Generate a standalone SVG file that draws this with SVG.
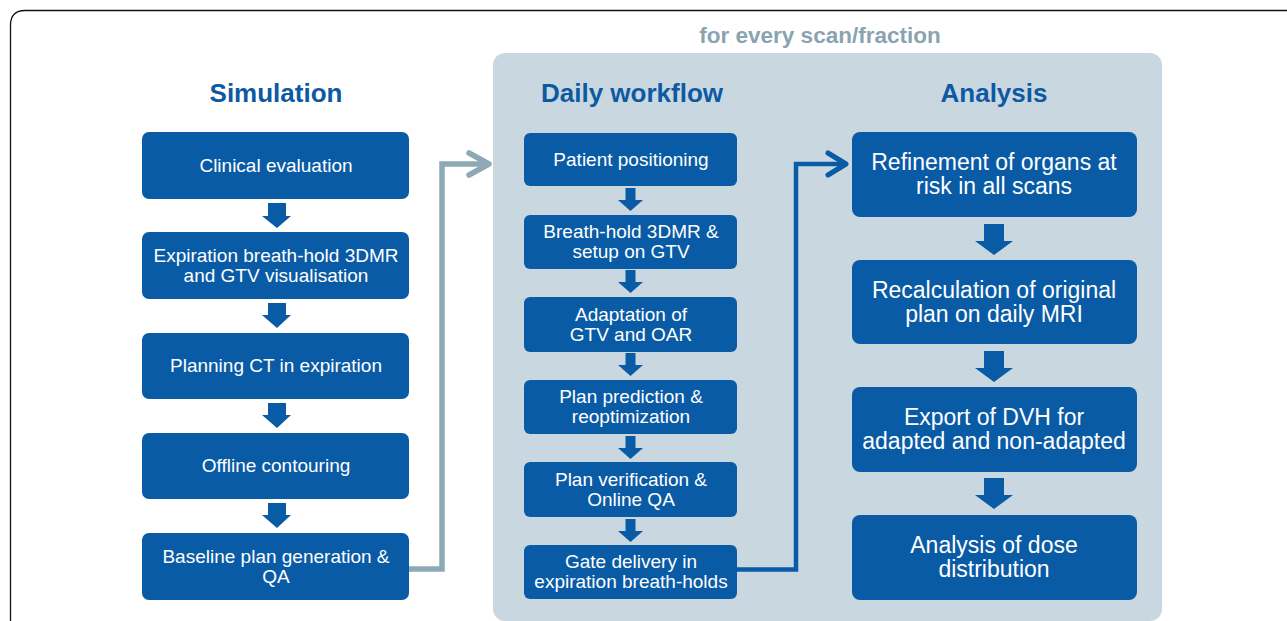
<svg xmlns="http://www.w3.org/2000/svg" width="1287" height="621" viewBox="0 0 1287 621">
<defs>
<style>
.box{fill:#0a5ba6;}
.t{font-family:"Liberation Sans",Arial,sans-serif;fill:#ffffff;text-anchor:middle;}
.s{font-size:19px;}
.a{font-size:23px;}
.h{font-family:"Liberation Sans",Arial,sans-serif;font-weight:bold;fill:#0d5aa3;font-size:26px;text-anchor:middle;}
.down{fill:#0a5ba6;}
</style>
</defs>
<rect x="0" y="0" width="1287" height="621" fill="#ffffff"/>
<path d="M10.5,621 V25 Q10.5,10.5 25,10.5 H1287" fill="none" stroke="#111111" stroke-width="1.3"/>
<rect id="panel" x="493" y="53" width="669" height="568" rx="12" fill="#c9d7e0"/>
<text x="820" y="43" font-family="Liberation Sans,Arial,sans-serif" font-weight="bold" font-size="22.5" fill="#8aa3b0" text-anchor="middle">for every scan/fraction</text>
<text class="h" x="276" y="102">Simulation</text>
<text class="h" x="632" y="102">Daily workflow</text>
<text class="h" x="994" y="102">Analysis</text>

<g id="connectors">
<polyline points="409,569 442,569 442,164 488,164" fill="none" stroke="#8ea9b6" stroke-width="5.5"/>
<polyline points="469,153 489,164 469,175" fill="none" stroke="#8ea9b6" stroke-width="5.5" stroke-linecap="round" stroke-linejoin="round"/>
<polyline points="737,569.5 796,569.5 796,164 845,164" fill="none" stroke="#0a5ba6" stroke-width="4.5"/>
<polyline points="828,153 846,164 828,175" fill="none" stroke="#0a5ba6" stroke-width="5" stroke-linecap="round" stroke-linejoin="round"/>
<!-- simulation arrows -->
<path class="down" d="M268,203 H286 V216 H291 L277,228 L262,216 H268 Z"/>
<path class="down" d="M268,303 H286 V315 H291 L277,328 L262,315 H268 Z"/>
<path class="down" d="M268,403 H286 V415 H291 L277,428 L262,415 H268 Z"/>
<path class="down" d="M268,503 H286 V515 H291 L277,528 L262,515 H268 Z"/>
<!-- daily arrows -->
<path class="down" d="M625.5,188 H635.5 V200 H643 L630.5,211 L618,200 H625.5 Z"/>
<path class="down" d="M625.5,270 H635.5 V282 H643 L630.5,293 L618,282 H625.5 Z"/>
<path class="down" d="M625.5,353 H635.5 V365 H643 L630.5,376 L618,365 H625.5 Z"/>
<path class="down" d="M625.5,436 H635.5 V448 H643 L630.5,459 L618,448 H625.5 Z"/>
<path class="down" d="M625.5,519 H635.5 V531 H643 L630.5,542 L618,531 H625.5 Z"/>
<!-- analysis arrows -->
<path class="down" d="M984,224 H1004 V241 H1013 L994,255 L975,241 H984 Z"/>
<path class="down" d="M984,351 H1004 V368 H1013 L994,382 L975,368 H984 Z"/>
<path class="down" d="M984,478 H1004 V495 H1013 L994,509 L975,495 H984 Z"/>
</g>

<g id="sim1"><rect class="box" x="142" y="132" width="267" height="67" rx="7"/><text class="t s" x="276" y="172">Clinical evaluation</text></g>
<g id="sim2"><rect class="box" x="142" y="232" width="267" height="67" rx="7"/><text class="t s" x="276" y="262">Expiration breath-hold 3DMR</text><text class="t s" x="276" y="282">and GTV visualisation</text></g>
<g id="sim3"><rect class="box" x="142" y="333" width="267" height="66" rx="7"/><text class="t s" x="276" y="372">Planning CT in expiration</text></g>
<g id="sim4"><rect class="box" x="142" y="433" width="267" height="66" rx="7"/><text class="t s" x="276" y="472">Offline contouring</text></g>
<g id="sim5"><rect class="box" x="142" y="533" width="267" height="67" rx="7"/><text class="t s" x="276" y="563">Baseline plan generation &amp;</text><text class="t s" x="276" y="583">QA</text></g>

<g id="day1"><rect class="box" x="524" y="133" width="213" height="53" rx="6"/><text class="t s" x="631" y="166">Patient positioning</text></g>
<g id="day2"><rect class="box" x="524" y="215" width="213" height="54" rx="6"/><text class="t s" x="631" y="238">Breath-hold 3DMR &amp;</text><text class="t s" x="631" y="258">setup on GTV</text></g>
<g id="day3"><rect class="box" x="524" y="297" width="213" height="55" rx="6"/><text class="t s" x="631" y="321">Adaptation of</text><text class="t s" x="631" y="341">GTV and OAR</text></g>
<g id="day4"><rect class="box" x="524" y="380" width="213" height="54" rx="6"/><text class="t s" x="631" y="403">Plan prediction &amp;</text><text class="t s" x="631" y="423">reoptimization</text></g>
<g id="day5"><rect class="box" x="524" y="462" width="213" height="55" rx="6"/><text class="t s" x="631" y="486">Plan verification &amp;</text><text class="t s" x="631" y="506">Online QA</text></g>
<g id="day6"><rect class="box" x="524" y="545" width="213" height="54" rx="6"/><text class="t s" x="631" y="568">Gate delivery in</text><text class="t s" x="631" y="588">expiration breath-holds</text></g>

<g id="ana1"><rect class="box" x="852" y="132" width="285" height="85" rx="8"/><text class="t a" x="994" y="170">Refinement of organs at</text><text class="t a" x="994" y="194">risk in all scans</text></g>
<g id="ana2"><rect class="box" x="852" y="260" width="285" height="84" rx="8"/><text class="t a" x="994" y="298">Recalculation of original</text><text class="t a" x="994" y="322">plan on daily MRI</text></g>
<g id="ana3"><rect class="box" x="852" y="387" width="285" height="85" rx="8"/><text class="t a" x="994" y="425">Export of DVH for</text><text class="t a" x="994" y="449">adapted and non-adapted</text></g>
<g id="ana4"><rect class="box" x="852" y="515" width="285" height="85" rx="8"/><text class="t a" x="994" y="553">Analysis of dose</text><text class="t a" x="994" y="577">distribution</text></g>
</svg>
